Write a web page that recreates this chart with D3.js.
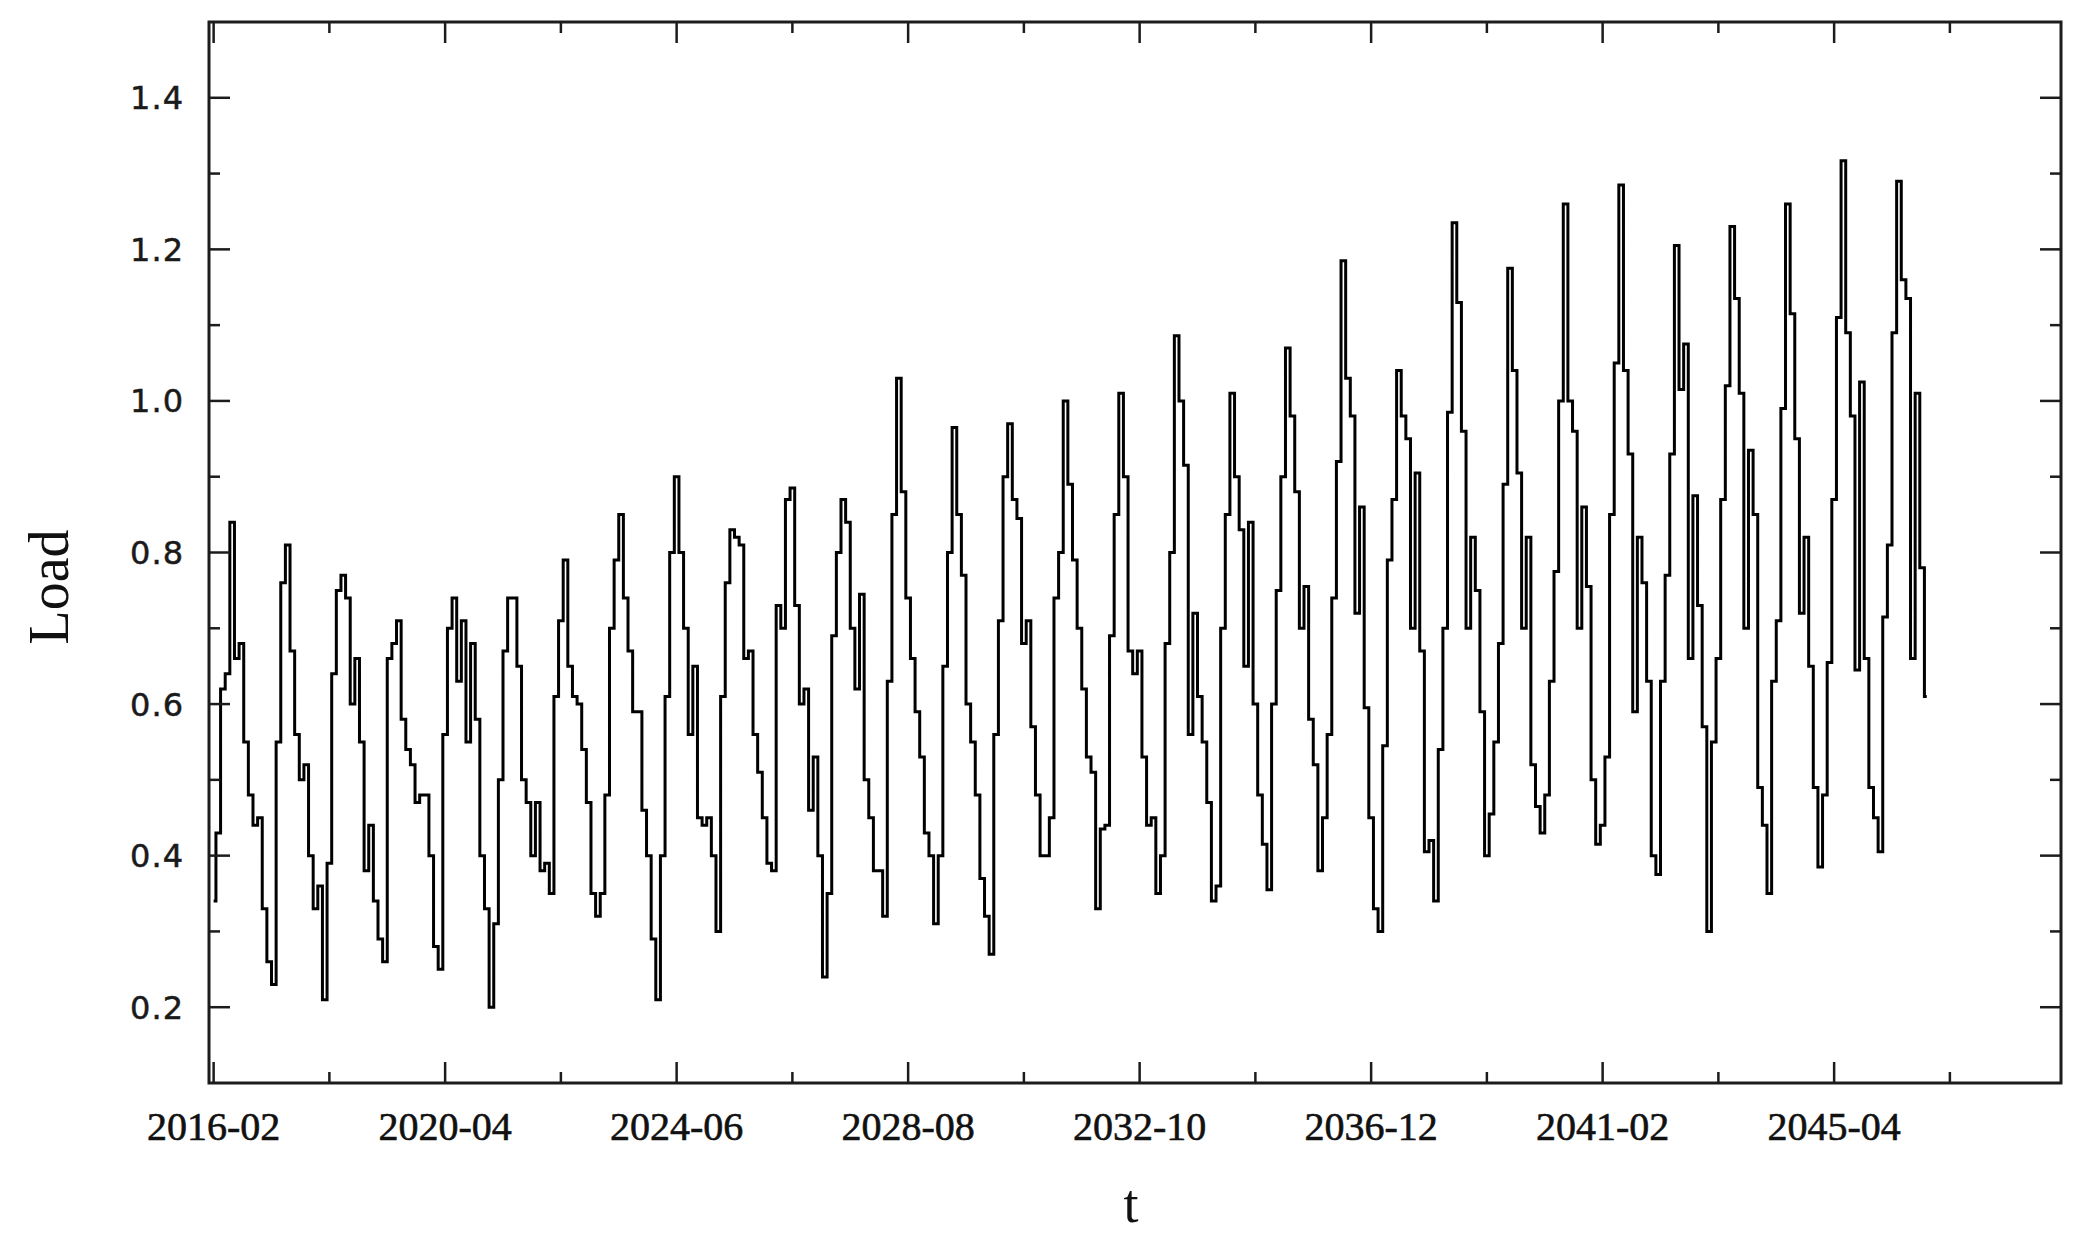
<!DOCTYPE html>
<html><head><meta charset="utf-8">
<script src="https://cdn.jsdelivr.net/npm/d3@7"></script>
<style>body{margin:0;background:#fff}svg{display:block}</style>
</head><body><svg id="c" width="2088" height="1247"></svg>
<script>
// Monthly load, first value = 2016-02 (month index 1, where 0 = 2016-01)
const load2016to2019 = [0.34,0.43,0.62,0.64,0.84,0.66,0.68,0.55,0.48,0.44,0.45,0.33,0.26,0.23,0.55,0.76,0.81,0.67,0.56,0.50,0.52,0.40,0.33,0.36,0.21,0.39,0.64,0.75,0.77,0.74,0.60,0.66,0.55,0.38,0.44,0.34,0.29,0.26,0.66,0.68,0.71,0.58,0.54,0.52,0.47];
const load2019to2023 = [0.48,0.48,0.40,0.28,0.25,0.56,0.70,0.74,0.63,0.71,0.55,0.68,0.58,0.40,0.33,0.20,0.31,0.50,0.67,0.74,0.74,0.65,0.50,0.47,0.40,0.47,0.38,0.39,0.35,0.61,0.71,0.79,0.65,0.61,0.60,0.54,0.47,0.35,0.32,0.35,0.48,0.70,0.79,0.85,0.74,0.67,0.59];
const load2023to2027 = [0.59,0.46,0.40,0.29,0.21,0.40,0.61,0.80,0.90,0.80,0.70,0.56,0.65,0.45,0.44,0.45,0.40,0.30,0.61,0.76,0.83,0.82,0.81,0.66,0.67,0.56,0.51,0.45,0.39,0.38,0.73,0.70,0.87,0.885,0.73,0.60,0.62,0.46,0.53,0.40,0.24,0.35,0.69,0.80,0.87,0.84];
const load2027to2031 = [0.70,0.62,0.745,0.50,0.45,0.38,0.38,0.32,0.63,0.85,1.03,0.88,0.74,0.66,0.59,0.53,0.43,0.40,0.31,0.40,0.65,0.80,0.965,0.85,0.77,0.60,0.55,0.48,0.37,0.32,0.27,0.56,0.71,0.90,0.97,0.87,0.845,0.68,0.71,0.57,0.48,0.40,0.40,0.45,0.74,0.80,1.00];
const load2031to2035 = [0.89,0.79,0.70,0.62,0.53,0.51,0.33,0.435,0.44,0.69,0.85,1.01,0.90,0.67,0.64,0.67,0.53,0.44,0.45,0.35,0.40,0.68,0.80,1.086,1.00,0.915,0.56,0.72,0.61,0.55,0.47,0.34,0.36,0.70,0.85,1.01,0.90,0.83,0.65,0.84,0.60,0.48,0.415,0.355,0.60,0.75,0.90];
const load2035to2039 = [1.07,0.98,0.88,0.70,0.755,0.58,0.52,0.38,0.45,0.56,0.74,0.92,1.185,1.03,0.98,0.72,0.86,0.595,0.45,0.33,0.30,0.545,0.79,0.87,1.04,0.98,0.95,0.70,0.905,0.67,0.405,0.42,0.34,0.54,0.70,0.985,1.235,1.13,0.96,0.70,0.82,0.75,0.59,0.40,0.455,0.55];
const load2039to2043 = [0.68,0.89,1.175,1.04,0.905,0.70,0.82,0.52,0.465,0.43,0.48,0.63,0.775,1.00,1.26,1.00,0.96,0.70,0.86,0.755,0.50,0.415,0.44,0.53,0.85,1.05,1.285,1.04,0.93,0.59,0.82,0.76,0.63,0.40,0.375,0.63,0.77,0.93,1.205,1.015,1.075,0.66,0.875,0.73,0.57,0.30,0.55,0.66];
const load2043to2046 = [0.87,1.02,1.23,1.135,1.01,0.70,0.935,0.85,0.49,0.44,0.35,0.63,0.71,0.99,1.26,1.115,0.95,0.72,0.82,0.65,0.49,0.385,0.48,0.655,0.87,1.11,1.317,1.09,0.98,0.645,1.025,0.66,0.49,0.45,0.405,0.715,0.81,1.09,1.29,1.16,1.135,0.66,1.01,0.78,0.61];

const xTickLabels = ["2016-02","2020-04","2024-06","2028-08","2032-10","2036-12","2041-02","2045-04"];
const yTickLabels = ["0.2","0.4","0.6","0.8","1.0","1.2","1.4"];
const yMinorTicks = [0.3,0.5,0.7,0.9,1.1,1.3];
const startMonthIndex = 1; // 2016-02

const load = [].concat(load2016to2019, load2019to2023, load2023to2027, load2027to2031,
                       load2031to2035, load2035to2039, load2039to2043, load2043to2046);
const series = load.map((v, i) => ({m: startMonthIndex + i, v}));

const monthIndex = s => { const [y, mo] = s.split("-").map(Number); return (y - 2016) * 12 + (mo - 1); };
const xMajor = xTickLabels.map(monthIndex);
const xMinor = xMajor.map(m => m + 25);

const L = 209, R = 2061, T = 22, B = 1083;
const x = d3.scaleLinear().domain([0, 400]).range([L, R]);
const y = d3.scaleLinear().domain([0.1, 1.5]).range([B, T]);

const svg = d3.select("#c");
const ink = "#1c1c1c";

// data line
svg.append("path")
  .datum(series)
  .attr("fill", "none")
  .attr("stroke", "#000")
  .attr("stroke-width", 3)
  .attr("stroke-linejoin", "miter")
  .attr("d", d3.line().x(d => x(d.m)).y(d => y(d.v)).curve(d3.curveStep));

// ticks (inward, all four sides)
const tk = svg.append("g").attr("stroke", ink).attr("stroke-width", 2.5);
const MAJ = 21, MIN = 11;
xMajor.forEach(m => {
  tk.append("line").attr("x1", x(m)).attr("x2", x(m)).attr("y1", B).attr("y2", B - MAJ);
  tk.append("line").attr("x1", x(m)).attr("x2", x(m)).attr("y1", T).attr("y2", T + MAJ);
});
xMinor.forEach(m => {
  tk.append("line").attr("x1", x(m)).attr("x2", x(m)).attr("y1", B).attr("y2", B - MIN);
  tk.append("line").attr("x1", x(m)).attr("x2", x(m)).attr("y1", T).attr("y2", T + MIN);
});
yTickLabels.map(Number).forEach(v => {
  tk.append("line").attr("x1", L).attr("x2", L + MAJ).attr("y1", y(v)).attr("y2", y(v));
  tk.append("line").attr("x1", R).attr("x2", R - MAJ).attr("y1", y(v)).attr("y2", y(v));
});
yMinorTicks.forEach(v => {
  tk.append("line").attr("x1", L).attr("x2", L + MIN).attr("y1", y(v)).attr("y2", y(v));
  tk.append("line").attr("x1", R).attr("x2", R - MIN).attr("y1", y(v)).attr("y2", y(v));
});

// frame
svg.append("rect").attr("x", L).attr("y", T).attr("width", R - L).attr("height", B - T)
  .attr("fill", "none").attr("stroke", ink).attr("stroke-width", 3);

// tick labels
svg.append("g").selectAll("text").data(xTickLabels).join("text")
  .attr("x", d => x(monthIndex(d))).attr("y", 1140)
  .attr("text-anchor", "middle")
  .attr("font-family", "'Liberation Serif','Times New Roman',serif")
  .attr("font-size", 40).attr("fill", "#111")
  .attr("stroke", "#111").attr("stroke-width", 0.6)
  .text(d => d);

svg.append("g").selectAll("text").data(yTickLabels).join("text")
  .attr("x", 184).attr("y", d => y(+d))
  .attr("dy", "0.36em")
  .attr("text-anchor", "end")
  .attr("font-family", "'DejaVu Sans',Verdana,sans-serif")
  .attr("font-size", 32).attr("letter-spacing", 1).attr("fill", "#1a1a1a")
  .attr("stroke", "#1a1a1a").attr("stroke-width", 0.5)
  .text(d => d);

// axis titles
svg.append("text").attr("x", 1131).attr("y", 1222).attr("text-anchor", "middle")
  .attr("font-family", "'Liberation Serif','Times New Roman',serif")
  .attr("font-size", 54).attr("fill", "#111").text("t");
svg.append("text").attr("transform", "translate(68,587) rotate(-90)").attr("text-anchor", "middle")
  .attr("font-family", "'Liberation Serif','Times New Roman',serif")
  .attr("font-size", 56).attr("fill", "#111").text("Load");
</script>
</body></html>
